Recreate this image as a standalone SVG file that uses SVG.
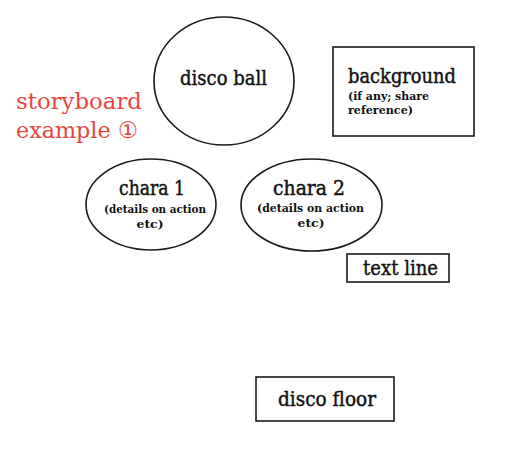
<svg xmlns="http://www.w3.org/2000/svg" width="511" height="449" viewBox="0 0 511 449">
<style>
.shape{fill:#fff;stroke:#1a1a1a;stroke-width:1.6}
.t{font-family:"DejaVu Serif","Liberation Serif",serif;font-size:20.5px;fill:#111;stroke:#111;stroke-width:0.45}
.s{font-family:"DejaVu Serif","Liberation Serif",serif;font-size:11.5px;font-weight:bold;fill:#111}
.r{font-family:"DejaVu Serif","Liberation Serif",serif;font-size:23px;fill:#e8453f}
</style>
<rect width="511" height="449" fill="#fff"/>
<g id="connectors"></g>
<g id="title">
<text class="r" x="16" y="109" textLength="126" lengthAdjust="spacingAndGlyphs">storyboard</text>
<text class="r" x="16" y="138" textLength="122" lengthAdjust="spacingAndGlyphs">example ①</text>
</g>
<g id="disco-ball">
<ellipse class="shape" cx="224" cy="81" rx="70" ry="64"/>
<text class="t" x="180" y="85" textLength="87" lengthAdjust="spacingAndGlyphs">disco ball</text>
</g>
<g id="background">
<rect class="shape" x="333" y="47" width="141" height="89"/>
<text class="t" x="348" y="83" textLength="108" lengthAdjust="spacingAndGlyphs">background</text>
<text class="s" x="348" y="100" textLength="81" lengthAdjust="spacingAndGlyphs">(if any; share</text>
<text class="s" x="348" y="114" textLength="65" lengthAdjust="spacingAndGlyphs">reference)</text>
</g>
<g id="chara1">
<ellipse class="shape" cx="151" cy="204.5" rx="65" ry="45.5"/>
<text class="t" x="119" y="195" textLength="66" lengthAdjust="spacingAndGlyphs">chara 1</text>
<text class="s" x="104" y="213" textLength="102" lengthAdjust="spacingAndGlyphs">(details on action</text>
<text class="s" x="150" y="228" textLength="27" lengthAdjust="spacingAndGlyphs" text-anchor="middle">etc)</text>
</g>
<g id="chara2">
<ellipse class="shape" cx="311.5" cy="205" rx="70.5" ry="46"/>
<text class="t" x="273" y="195" textLength="72" lengthAdjust="spacingAndGlyphs">chara  2</text>
<text class="s" x="257" y="212" textLength="107" lengthAdjust="spacingAndGlyphs">(details on action</text>
<text class="s" x="311" y="227" textLength="27" lengthAdjust="spacingAndGlyphs" text-anchor="middle">etc)</text>
</g>
<g id="text-line">
<rect class="shape" x="347" y="254" width="102" height="28"/>
<text class="t" x="363" y="275" textLength="75" lengthAdjust="spacingAndGlyphs">text line</text>
</g>
<g id="disco-floor">
<rect class="shape" x="256" y="377" width="138" height="44"/>
<text class="t" x="278" y="406" textLength="98" lengthAdjust="spacingAndGlyphs">disco floor</text>
</g>
</svg>
